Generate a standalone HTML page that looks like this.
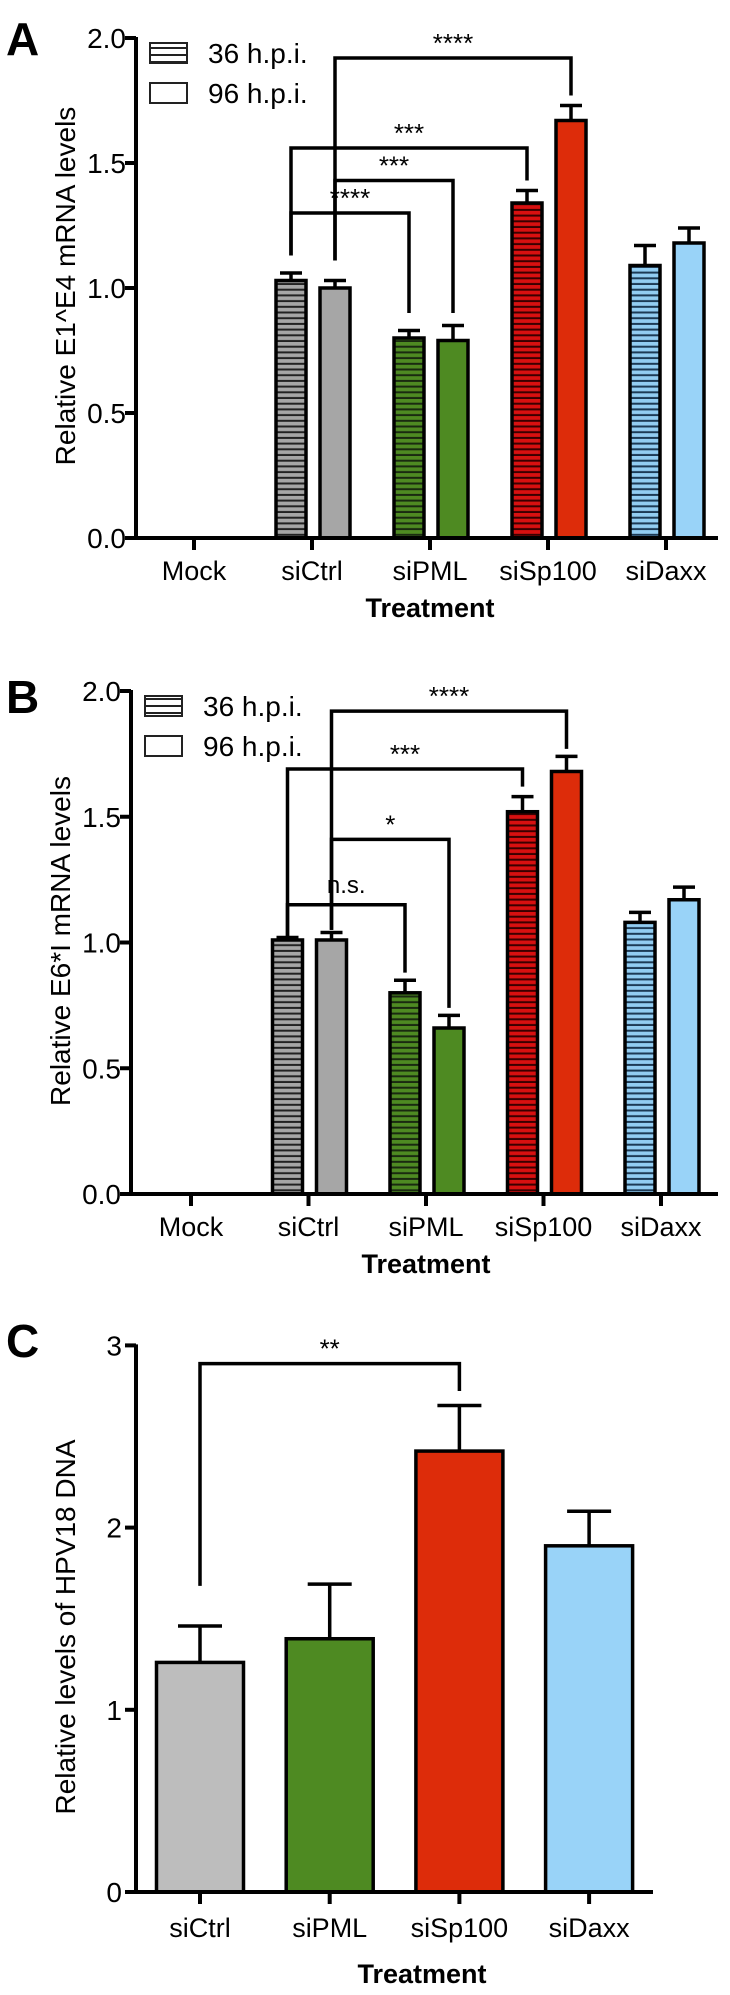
<!DOCTYPE html>
<html><head><meta charset="utf-8"><style>
html,body{margin:0;padding:0;background:#fff;}
svg{display:block;font-family:"Liberation Sans",Arial,sans-serif;}
</style></head><body>
<svg id="fig" width="730" height="1995" viewBox="0 0 730 1995" xmlns="http://www.w3.org/2000/svg">
<defs>
<pattern id="hGray" width="6" height="5.7" patternUnits="userSpaceOnUse"><rect width="6" height="5.7" fill="#a6a6a6"/><rect y="3.7" width="6" height="2" fill="#222"/></pattern>
<pattern id="hGreen" width="6" height="5.7" patternUnits="userSpaceOnUse"><rect width="6" height="5.7" fill="#4e8a22"/><rect y="3.7" width="6" height="2" fill="#1a2a10"/></pattern>
<pattern id="hRed" width="6" height="5.7" patternUnits="userSpaceOnUse"><rect width="6" height="5.7" fill="#d81010"/><rect y="3.7" width="6" height="2" fill="#3a0000"/></pattern>
<pattern id="hBlue" width="6" height="5.7" patternUnits="userSpaceOnUse"><rect width="6" height="5.7" fill="#92cdf2"/><rect y="3.7" width="6" height="2" fill="#1d3a55"/></pattern>
<pattern id="hWhite" width="6" height="7" patternUnits="userSpaceOnUse"><rect width="6" height="7" fill="#fff"/><rect y="5" width="6" height="2" fill="#222"/></pattern>
</defs>
</svg>
<script>
const categoriesAB = ['Mock','siCtrl','siPML','siSp100','siDaxx'];
const aVals36 = [0, 1.03, 0.80, 1.34, 1.09];
const aErr36 = [0, 0.03, 0.03, 0.05, 0.08];
const aVals96 = [0, 1.00, 0.79, 1.67, 1.18];
const aErr96 = [0, 0.03, 0.06, 0.06, 0.06];
const bVals36 = [0, 1.01, 0.80, 1.52, 1.08];
const bErr36 = [0, 0.01, 0.05, 0.06, 0.04];
const bVals96 = [0, 1.01, 0.66, 1.68, 1.17];
const bErr96 = [0, 0.03, 0.05, 0.06, 0.05];
const ticksAB = [0, 0.5, 1.0, 1.5, 2.0];
const tickLabelsAB = ['0.0','0.5','1.0','1.5','2.0'];
const categoriesC = ['siCtrl','siPML','siSp100','siDaxx'];
const cVals = [1.26, 1.39, 2.42, 1.90];
const cErr = [0.20, 0.30, 0.25, 0.19];
const ticksC = [0, 1, 2, 3];
const tickLabelsC = ['0','1','2','3'];
// brackets: [fromCat, fromSeries, legFrom, toCat, toSeries, legTo, level, label]
const aBrackets = [[1,1,1.11,3,1,1.77,1.92,'****'],[1,0,1.13,3,0,1.43,1.56,'***'],[1,1,1.11,2,1,0.90,1.43,'***'],[1,0,1.13,2,0,0.90,1.30,'****']];
const bBrackets = [[1,1,1.05,3,1,1.77,1.92,'****'],[1,0,1.02,3,0,1.62,1.69,'***'],[1,1,1.05,2,1,0.74,1.41,'*'],[1,0,1.02,2,0,0.88,1.15,'n.s.']];
const cBrackets = [[0,0,1.68,2,0,2.75,2.90,'**']];

const fills96 = ['#a6a6a6','#a6a6a6','#4e8a22','#dd2c0a','#99d3f8'];
const fills36 = ['url(#hGray)','url(#hGray)','url(#hGreen)','url(#hRed)','url(#hBlue)'];
const fillsC = ['#bdbdbd','#4e8a22','#dd2c0a','#99d3f8'];

const svg = document.getElementById('fig');
const NS = 'http://www.w3.org/2000/svg';
function mk(tag, attrs, parent){const e=document.createElementNS(NS,tag);for(const k in attrs)e.setAttribute(k,attrs[k]);(parent||svg).appendChild(e);return e;}
function txt(s, attrs, parent){const e=mk('text',attrs,parent);e.textContent=s;return e;}

function drawGrouped(cfg, cats, v36, e36, v96, e96, brackets, prefix){
  const g = mk('g',{});
  
  
  const y = v => cfg.y0 - v*cfg.unit;
  const cx = i => cfg.c0 + i*cfg.step;
  const barX = (i,s) => s===0 ? cx(i)-36 : cx(i)+8;
  const bw = 30;
  const L = txt(cfg.letter,{x:cfg.lx,y:cfg.ly,'font-size':46,'font-weight':'bold'},g);
  
  
  // bars
  cats.forEach((c,i)=>{
    [[v36,e36,fills36[i]],[v96,e96,fills96[i]]].forEach((d,s)=>{
      const v=d[0][i]; if(v<=0) return;
      const x=barX(i,s);
      const r=mk('rect',{x:x,y:y(v),width:bw,height:cfg.y0-y(v),fill:d[2],stroke:'#000','stroke-width':3.5},g);
      
      
      const ey=y(v+d[1][i]);
      const eb=mk('path',{d:`M${x+bw/2},${y(v)}V${ey}M${x+bw/2-11},${ey}H${x+bw/2+11}`,stroke:'#000','stroke-width':3.5,fill:'none'},g);
      
      
    });
  });
  // axes
  const ax=mk('path',{d:`M${cfg.ax},${y(2.0)-1}V${cfg.y0}H${cfg.xEnd}`,stroke:'#000','stroke-width':4,fill:'none'},g);
  
  
  ticksAB.forEach((t,k)=>{
    mk('path',{d:`M${cfg.ax-11},${y(t)}H${cfg.ax}`,stroke:'#000','stroke-width':4},g);
    const tl=txt(tickLabelsAB[k],{x:cfg.ax-10,y:y(t)+10,'font-size':28,'text-anchor':'end'},g);
    
    
  });
  cats.forEach((c,i)=>{
    mk('path',{d:`M${cx(i)},${cfg.y0}V${cfg.y0+12}`,stroke:'#000','stroke-width':4},g);
    const cl=txt(c,{x:cx(i),y:cfg.y0+42,'font-size':27,'text-anchor':'middle'},g);
    
    
  });
  const xt=txt('Treatment',{x:cfg.c0+2*cfg.step,y:cfg.y0+79,'font-size':27,'font-weight':'bold','text-anchor':'middle'},g);
  
  
  const yt=txt(cfg.ytitle,{x:0,y:0,'font-size':28,'text-anchor':'middle',transform:`translate(${cfg.ytx},${cfg.yty}) rotate(-90)`},g);
  
  
  // legend
  const lg=mk('g',{},g);
  
  
  const lyy=y(2.0)+5;
  const le1=mk('rect',{x:cfg.ax+14,y:lyy,width:37,height:20,fill:'url(#hWhite)',stroke:'#222','stroke-width':2},lg);
  
  
  txt('36 h.p.i.',{x:cfg.ax+72,y:lyy+20,'font-size':28},lg);
  const le2=mk('rect',{x:cfg.ax+14,y:lyy+40,width:37,height:20,fill:'#fff',stroke:'#222','stroke-width':2},lg);
  
  
  txt('96 h.p.i.',{x:cfg.ax+72,y:lyy+60,'font-size':28},lg);
  // brackets
  brackets.forEach(b=>{
    const x1=barX(b[0],b[1])+bw/2, x2=barX(b[3],b[4])+bw/2, ly=y(b[6]);
    const p=mk('path',{d:`M${x1},${y(b[2])}V${ly}H${x2}V${y(b[5])}`,stroke:'#000','stroke-width':3.5,fill:'none'},g);
    
    
    const s=txt(b[7],{x:(x1+x2)/2,y:ly-(b[7]==='n.s.'?12:6),'font-size':b[7]==='n.s.'?24:26,'text-anchor':'middle'},g);
    
    
  });
}

drawGrouped({letter:'A',lx:6,ly:55,ax:136,y0:538,unit:250,c0:194,step:118,xEnd:718,ytitle:'Relative E1^E4 mRNA levels',ytx:75,yty:286},
  categoriesAB,aVals36,aErr36,aVals96,aErr96,aBrackets,'panel-a');
drawGrouped({letter:'B',lx:6,ly:713,ax:131,y0:1194,unit:251.5,c0:191,step:117.5,xEnd:718,ytitle:'Relative E6*I mRNA levels',ytx:70,yty:941},
  categoriesAB,bVals36,bErr36,bVals96,bErr96,bBrackets,'panel-b');

// Panel C
(function(){
  const g=mk('g',{});
  
  
  const y0=1892, unit=182.2, ax=136;
  const y=v=>y0-v*unit;
  const cx=i=>200+i*129.7;
  const bw=87;
  const L=txt('C',{x:6,y:1357,'font-size':46,'font-weight':'bold'},g);
  
  
  categoriesC.forEach((c,i)=>{
    const x=cx(i)-bw/2;
    const r=mk('rect',{x:x,y:y(cVals[i]),width:bw,height:y0-y(cVals[i]),fill:fillsC[i],stroke:'#000','stroke-width':3.5},g);
    
    
    const ey=y(cVals[i]+cErr[i]);
    const eb=mk('path',{d:`M${cx(i)},${y(cVals[i])}V${ey}M${cx(i)-22},${ey}H${cx(i)+22}`,stroke:'#000','stroke-width':3.5,fill:'none'},g);
    
    
    mk('path',{d:`M${cx(i)},${y0}V${y0+12}`,stroke:'#000','stroke-width':4},g);
    const cl=txt(c,{x:cx(i),y:y0+45,'font-size':27,'text-anchor':'middle'},g);
    
    
  });
  const a=mk('path',{d:`M${ax},${y(3)-1}V${y0}H653`,stroke:'#000','stroke-width':4,fill:'none'},g);
  
  
  ticksC.forEach((t,k)=>{
    mk('path',{d:`M${ax-11},${y(t)}H${ax}`,stroke:'#000','stroke-width':4},g);
    const tl=txt(tickLabelsC[k],{x:ax-14,y:y(t)+10,'font-size':28,'text-anchor':'end'},g);
    
    
  });
  const xt=txt('Treatment',{x:422,y:1983,'font-size':27,'font-weight':'bold','text-anchor':'middle'},g);
  
  
  const yt=txt('Relative levels of HPV18 DNA',{x:0,y:0,'font-size':28,'text-anchor':'middle',transform:'translate(75,1627) rotate(-90)'},g);
  
  
  cBrackets.forEach(b=>{
    const x1=cx(b[0]), x2=cx(b[3]), ly=y(b[6]);
    const p=mk('path',{d:`M${x1},${y(b[2])}V${ly}H${x2}V${y(b[5])}`,stroke:'#000','stroke-width':3.5,fill:'none'},g);
    
    
    const s=txt(b[7],{x:(x1+x2)/2,y:ly-6,'font-size':26,'text-anchor':'middle'},g);
    
    
  });
})();
</script>
</body></html>
